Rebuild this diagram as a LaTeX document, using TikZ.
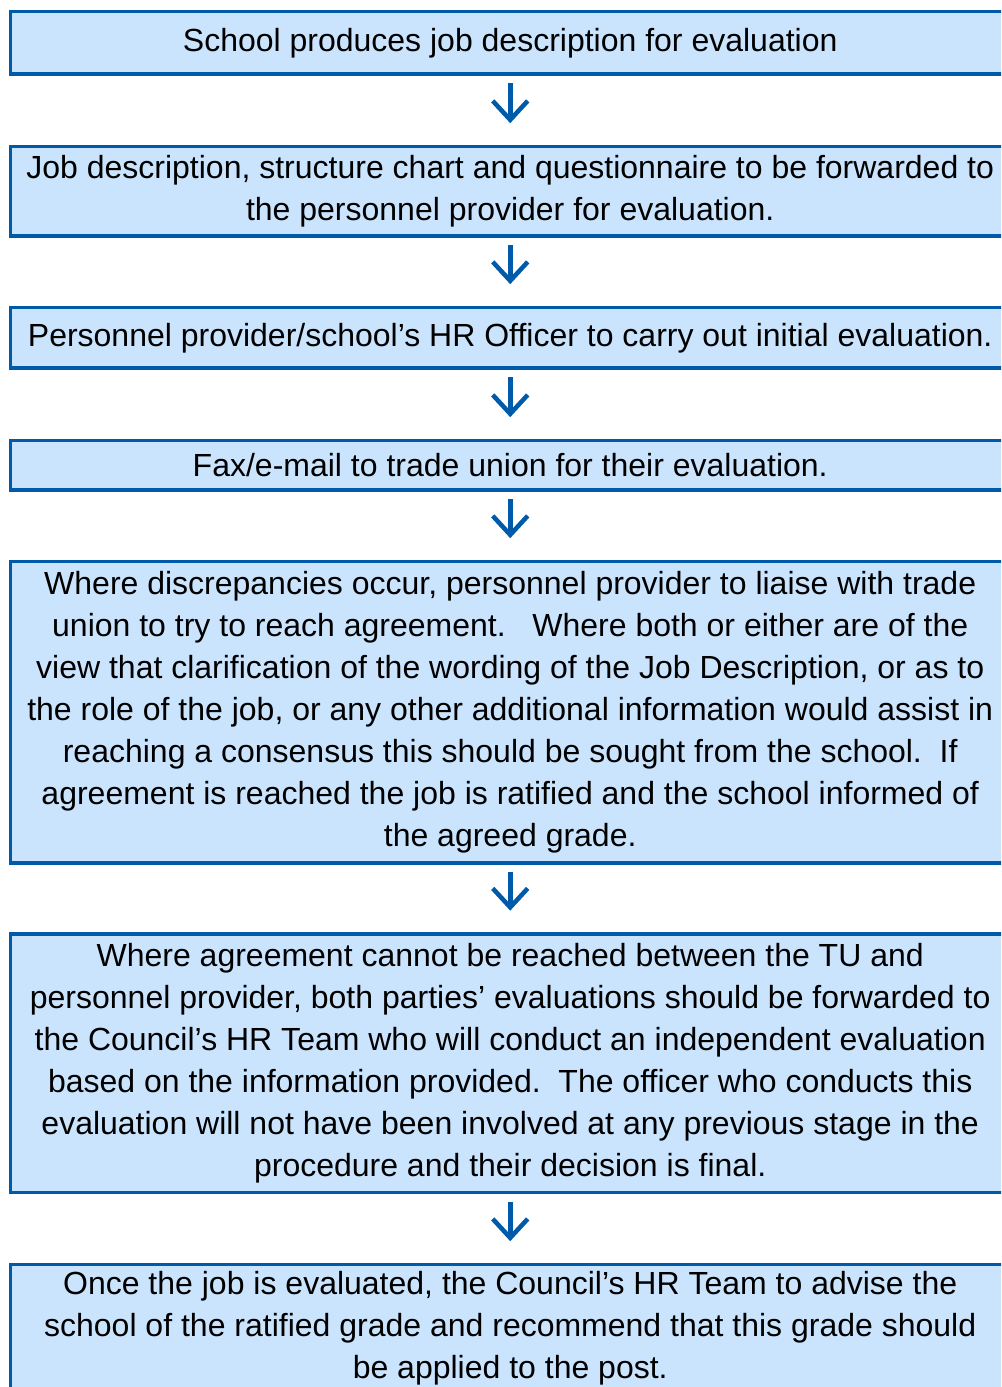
\documentclass[tikz,border=0pt]{standalone}
\usepackage{fontspec}
\setmainfont{Liberation Sans}
\definecolor{boxfill}{RGB}{202,228,253}
\definecolor{boxline}{RGB}{0,90,170}
\tikzset{
  stepbox/.style={draw=boxline, fill=boxfill, line width=2.6pt, anchor=north west,
    minimum width=749.6pt, inner sep=0pt, align=center,
    font=\fontsize{24pt}{31.5pt}\selectfont},
  flowshaft/.style={draw=boxline, line width=3.5pt, line cap=butt},
  flowhead/.style={draw=boxline, line width=3.4pt, line join=miter, line cap=butt},
}
\begin{document}
\begin{tikzpicture}[x=0.75pt,y=-0.75pt]
\useasboundingbox (0,0) rectangle (1001,1387);
\clip (0,0) rectangle (1001,1387);
\node[stepbox, minimum height=46.9pt] (b1) at (8.75,9.75)
  {School produces job description for evaluation};
\node[stepbox, minimum height=67.1pt] (b2) at (8.75,144.75)
  {Job description, structure chart and questionnaire to be forwarded to\\the personnel provider for evaluation.};
\node[stepbox, minimum height=45.4pt] (b3) at (8.75,305.75)
  {Personnel provider/school’s HR Officer to carry out initial evaluation.};
\node[stepbox, minimum height=37.1pt] (b4) at (8.75,438.75)
  {Fax/e-mail to trade union for their evaluation.};
\node[stepbox, minimum height=226.1pt] (b5) at (8.75,559.75)
  {Where discrepancies occur, personnel provider to liaise with trade\\
   union to try to reach agreement.\ \ \ Where both or either are of the\\
   view that clarification of the wording of the Job Description, or as to\\
   the role of the job, or any other additional information would assist in\\
   reaching a consensus this should be sought from the school.\ \ If\\
   agreement is reached the job is ratified and the school informed of\\
   the agreed grade.};
\node[stepbox, minimum height=193.9pt] (b6) at (8.75,932.25)
  {Where agreement cannot be reached between the TU and\\
   personnel provider, both parties’ evaluations should be forwarded to\\
   the Council’s HR Team who will conduct an independent evaluation\\
   based on the information provided.\ \ The officer who conducts this\\
   evaluation will not have been involved at any previous stage in the\\
   procedure and their decision is final.};
\node[stepbox, minimum height=95.6pt] (b7) at (8.75,1262.75)
  {Once the job is evaluated, the Council’s HR Team to advise the\\
   school of the ratified grade and recommend that this grade should\\
   be applied to the post.};
\foreach \s/\t in {b1/b2,b2/b3,b3/b4,b4/b5,b5/b6,b6/b7}{
  \draw[flowshaft] ([yshift=-5.8pt]\s.south) -- ([yshift=19.5pt]\t.north);
  \draw[flowhead] ([shift={(-13.1pt,32.9pt)}]\t.north) -- ([yshift=18.7pt]\t.north)
     -- ([shift={(13.1pt,32.9pt)}]\t.north);
}
\end{tikzpicture}
\end{document}
